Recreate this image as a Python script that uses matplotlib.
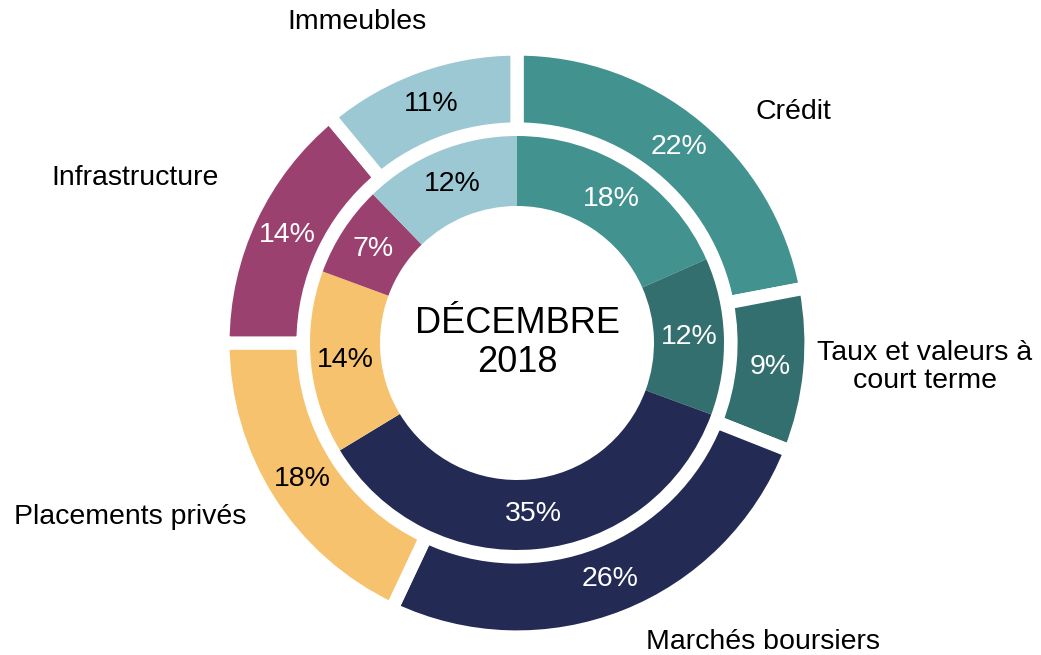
import numpy as np
from matplotlib import pyplot as plt

plt.rcParams['font.family'] = ['Liberation Sans', 'DejaVu Sans']

categories = ["Crédit", "Taux et valeurs à\ncourt terme", "Marchés boursiers",
              "Placements privés", "Infrastructure", "Immeubles"]
outer_vals = [22, 9, 26, 18, 14, 11]
inner_vals = [18, 12, 35, 14, 7, 12]
colors = ["#42928f", "#336f6e", "#232b55", "#f7c26e", "#9b4170", "#9cc8d3"]
text_colors = ["white", "white", "white", "black", "white", "black"]
center_text = "DÉCEMBRE\n2018"

# label anchor positions (pixels, origin bottom-left)
label_pos = [(793, 543), (925, 288), (763, 13), (130, 138), (135, 477), (357, 633)]


def main():
    fig = plt.figure(figsize=(10.41, 6.55), dpi=100)
    ax = fig.add_axes([0, 0, 1, 1])
    cx, cy = 517, 312

    # outer ring, thick white borders give the gaps
    w_out, _ = ax.pie(outer_vals, colors=colors, radius=294, center=(cx, cy),
                      startangle=90, counterclock=False,
                      wedgeprops=dict(width=80, edgecolor="white", linewidth=9.5))
    # inner ring
    w_in, _ = ax.pie(inner_vals, colors=colors, radius=207, center=(cx, cy),
                     startangle=90, counterclock=False,
                     wedgeprops=dict(width=70, linewidth=0))

    for wedges, vals, r in [(w_out, outer_vals, 254), (w_in, inner_vals, 172)]:
        for w, v, tc in zip(wedges, vals, text_colors):
            a = np.deg2rad((w.theta1 + w.theta2) / 2)
            ax.text(cx + r * np.cos(a), cy + r * np.sin(a), f"{v}%",
                    ha="center", va="center", fontsize=20.5, color=tc)

    for lab, (x, y) in zip(categories, label_pos):
        ax.text(x, y, lab, ha="center", va="center", fontsize=20.5,
                color="black", linespacing=1.15)

    ax.text(cx, cy, center_text, ha="center", va="center", fontsize=26,
            linespacing=1.15)

    ax.set_xlim(0, 1041)
    ax.set_ylim(0, 655)
    ax.set_aspect("equal")
    ax.axis("off")
    plt.savefig("out.png", dpi=100)


if __name__ == "__main__":
    main()
